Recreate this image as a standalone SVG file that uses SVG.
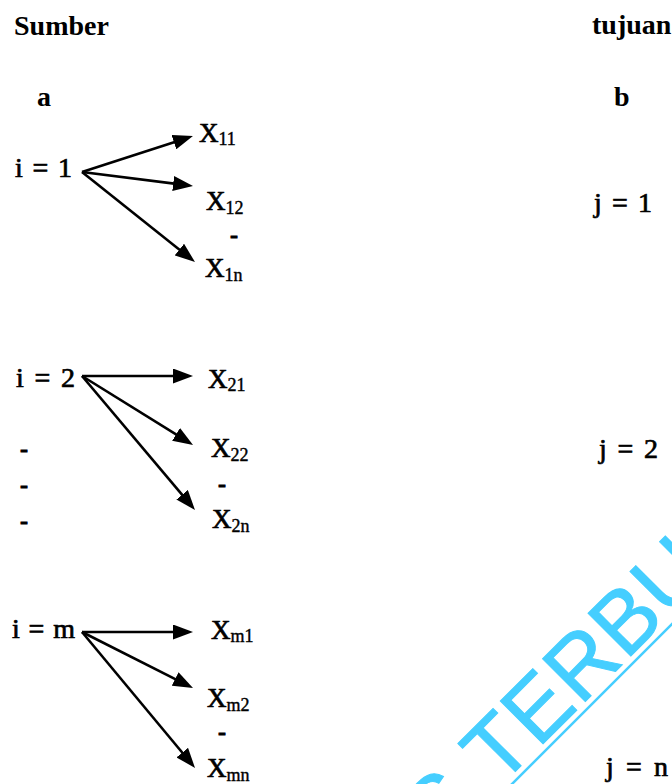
<svg xmlns="http://www.w3.org/2000/svg" width="672" height="784" viewBox="0 0 672 784">
<style>
.h{font-family:"Liberation Serif","Times New Roman",serif;font-weight:bold;font-size:28px;fill:#000}
.l{font-family:"Liberation Serif","Times New Roman",serif;font-size:28px;fill:#000;stroke:#000;stroke-width:0.7}
.x{font-family:"Liberation Serif","Times New Roman",serif;font-size:27px;fill:#000;stroke:#000;stroke-width:0.7}
.s{font-size:18px;stroke-width:0.4}
.d{font-family:"Liberation Serif","Times New Roman",serif;font-size:24px;font-weight:bold;fill:#000;stroke:#000;stroke-width:0.8}
.c{stroke:#000;stroke-width:2.6;fill:none}
.wm{font-family:"Liberation Sans",Arial,sans-serif;font-size:88px;fill:#45CEFF;stroke:#45CEFF;stroke-width:1}
</style>
<defs>
<marker id="ah" viewBox="0 0 20 15" refX="9" refY="7.5" markerWidth="20" markerHeight="15" orient="auto" markerUnits="userSpaceOnUse">
<path d="M0,0 L20,7.5 L0,15 z" fill="#000"/>
</marker>
</defs>
<rect width="672" height="784" fill="#fff"/>
<g id="watermark">
<g transform="translate(499.3,787.8) rotate(-45)">
<text class="wm" x="-25" y="0" text-anchor="end" letter-spacing="1">UNIVERSITAS</text>
<text class="wm" x="0" y="0" letter-spacing="1">TERBUKA</text>
</g>
<line x1="500" y1="796" x2="680" y2="616" stroke="#45CEFF" stroke-width="2.5"/>
</g>
<g id="head-sumber"><text class="h" x="14" y="35">Sumber</text></g>
<g id="head-tujuan"><text class="h" x="592" y="34">tujuan</text></g>
<g id="label-a"><text class="h" x="37" y="106" font-size="26">a</text></g>
<g id="label-b"><text class="h" x="614" y="106" font-size="26">b</text></g>
<g id="src-1"><text class="l" x="15" y="177" textLength="57" lengthAdjust="spacing">i = 1</text></g>
<g id="src-2"><text class="l" x="16" y="387" textLength="59" lengthAdjust="spacing">i = 2</text></g>
<g id="src-m"><text class="l" x="12" y="638" textLength="63" lengthAdjust="spacing">i = m</text></g>
<g id="src-dots">
<text class="d" x="20" y="457">-</text>
<text class="d" x="20" y="493">-</text>
<text class="d" x="20" y="529">-</text>
</g>
<g id="dst-1"><text class="l" x="594" y="212" textLength="58" lengthAdjust="spacing">j = 1</text></g>
<g id="dst-2"><text class="l" x="599" y="458" textLength="59" lengthAdjust="spacing">j = 2</text></g>
<g id="dst-n"><text class="l" x="606" y="776" textLength="62" lengthAdjust="spacing">j = n</text></g>
<g id="x11"><text class="x" x="199" y="142">X<tspan class="s" dy="3">11</tspan></text></g>
<g id="x12"><text class="x" x="206" y="210">X<tspan class="s" dy="4">12</tspan></text></g>
<g id="dot-1"><text class="d" x="230" y="243">-</text></g>
<g id="x1n"><text class="x" x="205" y="277">X<tspan class="s" dy="4">1n</tspan></text></g>
<g id="x21"><text class="x" x="208" y="388">X<tspan class="s" dy="3">21</tspan></text></g>
<g id="x22"><text class="x" x="211" y="457">X<tspan class="s" dy="4">22</tspan></text></g>
<g id="dot-2"><text class="d" x="218" y="492">-</text></g>
<g id="x2n"><text class="x" x="212" y="528">X<tspan class="s" dy="4">2n</tspan></text></g>
<g id="xm1"><text class="x" x="211" y="639">X<tspan class="s" dy="3">m1</tspan></text></g>
<g id="xm2"><text class="x" x="207" y="707">X<tspan class="s" dy="4">m2</tspan></text></g>
<g id="dot-m"><text class="d" x="218" y="740">-</text></g>
<g id="xmn"><text class="x" x="207" y="777">X<tspan class="s" dy="4">mn</tspan></text></g>
<g id="connectors">
<line class="c" marker-end="url(#ah)" x1="82" y1="172" x2="182.5" y2="139.4"/>
<line class="c" marker-end="url(#ah)" x1="82" y1="172" x2="182.1" y2="184.6"/>
<line class="c" marker-end="url(#ah)" x1="82" y1="172" x2="186.4" y2="255.2"/>
<line class="c" marker-end="url(#ah)" x1="82" y1="376" x2="182" y2="376"/>
<line class="c" marker-end="url(#ah)" x1="82" y1="376" x2="183.7" y2="439.2"/>
<line class="c" marker-end="url(#ah)" x1="82" y1="376" x2="187.9" y2="501.6"/>
<line class="c" marker-end="url(#ah)" x1="82" y1="632" x2="182" y2="632"/>
<line class="c" marker-end="url(#ah)" x1="82" y1="632" x2="183.2" y2="683.1"/>
<line class="c" marker-end="url(#ah)" x1="82" y1="632" x2="188" y2="759.5"/>
</g>
</svg>
